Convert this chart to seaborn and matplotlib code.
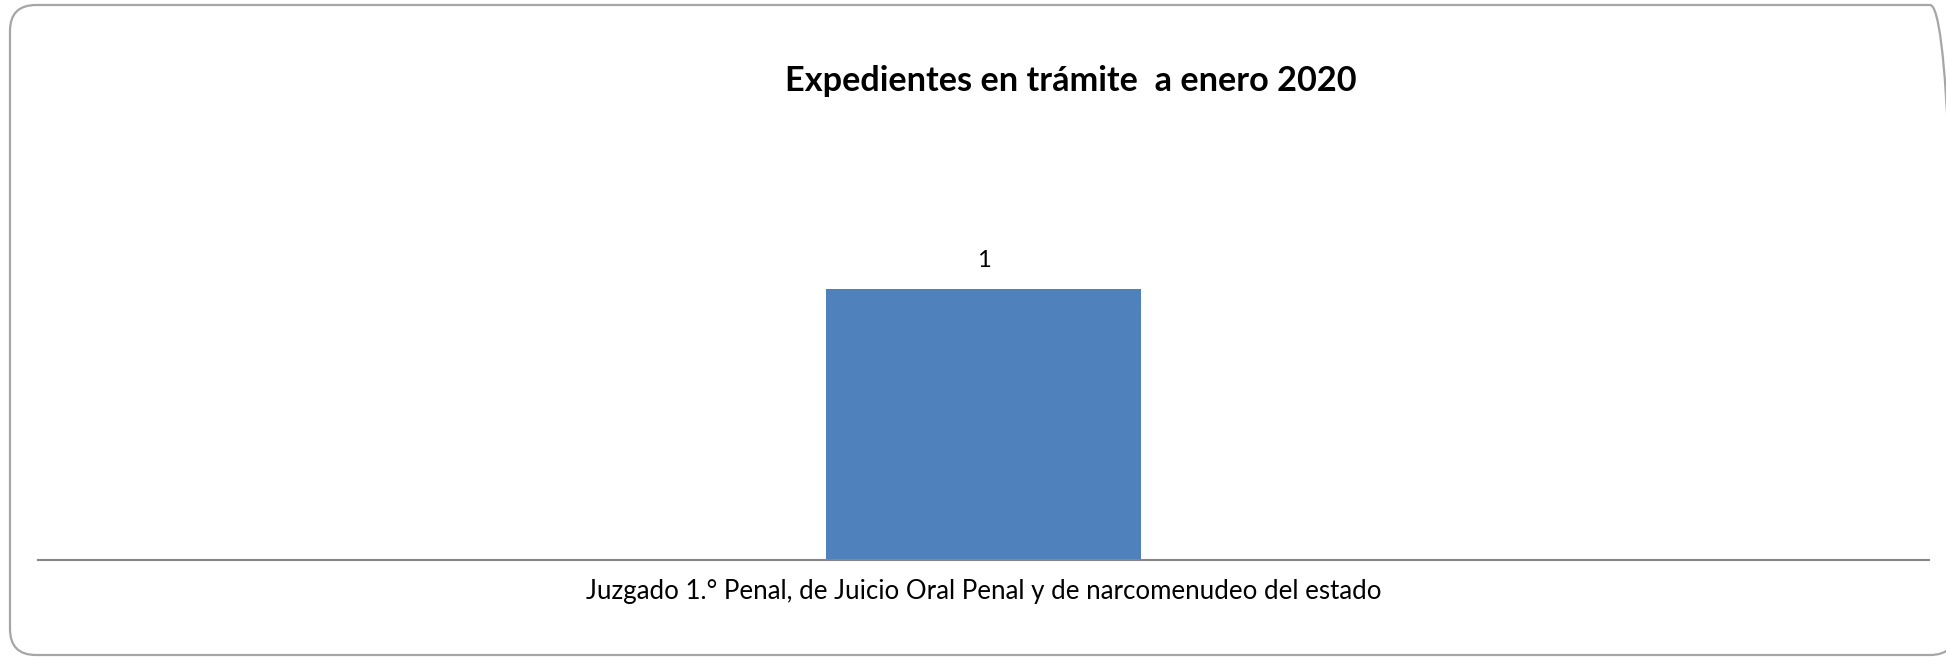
import matplotlib
matplotlib.use("Agg")
import matplotlib.pyplot as plt
import seaborn as sns
import pandas as pd
from matplotlib.patches import FancyBboxPatch
from matplotlib.transforms import IdentityTransform

categories = ["Juzgado 1.° Penal, de Juicio Oral Penal y de narcomenudeo del estado"]
values = [1]
title = "Expedientes en trámite  a enero 2020"

sns.set_theme(style="white")
plt.rcParams["font.family"] = ["Lato", "DejaVu Sans"]

W, H = 1946, 657
fig = plt.figure(figsize=(W / 100, H / 100), dpi=100)
fig.patch.set_facecolor("white")

# rounded outer frame (pixel coordinates, origin bottom-left)
frame = FancyBboxPatch((10, 2), 1946, 650,
                       boxstyle="round,pad=0,rounding_size=26",
                       transform=IdentityTransform(), fill=False,
                       edgecolor="#a6a6a6", linewidth=1.6)
fig.patches.append(frame)

ax_left, ax_right = 38 / W, 1929 / W
ax_bottom, ax_top = (H - 560) / H, (H - 235) / H
ax = fig.add_axes([ax_left, ax_bottom, ax_right - ax_left, ax_top - ax_bottom])

df = pd.DataFrame({"categoria": categories, "valor": values})
sns.barplot(data=df, x="categoria", y="valor", color="#4F81BD", saturation=1,
            width=0.167, ax=ax, edgecolor="none")
ax.set_xlim(-0.5, 0.5)
ax.set_ylim(0, 1.2)

for c in ax.containers:
    ax.bar_label(c, labels=[str(v) for v in values], padding=13, fontsize=17, color="#000000")

for s in ["top", "right", "left"]:
    ax.spines[s].set_visible(False)
ax.spines["bottom"].set_color("#868686")
ax.spines["bottom"].set_linewidth(1.5)
ax.set_yticks([])
ax.set_xlabel("")
ax.set_ylabel("")
ax.tick_params(axis="x", length=0, pad=14, labelsize=18.6, labelcolor="#000000")
ax.set_facecolor("none")

fig.text(1071 / W, 1 - 81 / H, title, ha="center", va="center",
         fontsize=24.7, fontweight="bold", color="#000000")

fig.savefig("out.png", dpi=100, facecolor="white")
